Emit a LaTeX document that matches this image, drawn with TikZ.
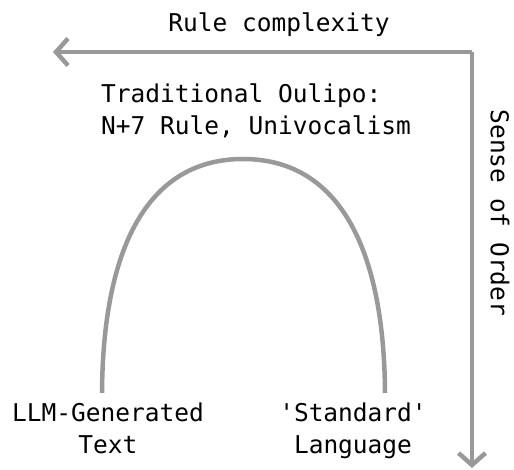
\documentclass[tikz,border=0pt]{standalone}
\usepackage{fontspec}
\setmonofont{DejaVu Sans Mono}
\usetikzlibrary{arrows.meta}
\definecolor{axisgray}{HTML}{999999}
\tikzset{
  axis/.style={line width=4.5pt, draw=axisgray, -{Straight Barb[length=12pt,width=27pt]}},
  curve/.style={line width=4.5pt, draw=axisgray},
  lbl/.style={font=\ttfamily\fontsize{24.5}{32}\selectfont, inner sep=0pt, text=black}
}
\begin{document}
\begin{tikzpicture}[x=1pt,y=-1pt]
        \useasboundingbox (0,0) rectangle (514,470);
        % Axes
        \coordinate (corner) at (472,52);
        \coordinate (leftend) at (53,52);
        \coordinate (bottomend) at (472,468);
        \draw[axis] (corner) -- (leftend);
        \draw[axis] (corner) -- (bottomend);
        \node[lbl, anchor=base] (rule) at (279,32) {Rule complexity};
        \node[lbl, anchor=center, rotate=-90] (order) at (500,213) {Sense of Order};
        % Arch
        \coordinate (archL) at (102,393);
        \coordinate (archTop) at (243,159);
        \coordinate (archR) at (385,393);
        \draw[curve] (archL) .. controls (103,240) and (152,159) .. (archTop)
                     .. controls (334,159) and (384,240) .. (archR);
        % Labels
        \node[lbl, anchor=north west, align=left] (oulipo) at (101,84)
          {Traditional Oulipo:\\N+7 Rule, Univocalism};
        \node[lbl, anchor=north, align=center] (llm) at (108,403) {LLM-Generated\\Text};
        \node[lbl, anchor=north, align=center] (std) at (353,403) {'Standard'\\Language};
    \end{tikzpicture}
\end{document}
